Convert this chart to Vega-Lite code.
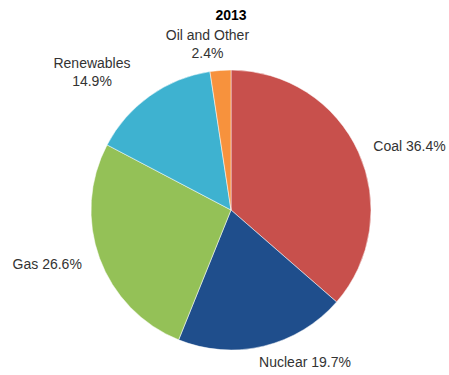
{
  "$schema": "https://vega.github.io/schema/vega-lite/v6.json",
  "autosize": "none",
  "width": 436,
  "height": 330,
  "padding": {"left": 13, "top": 45, "right": 0, "bottom": 0},
  "background": "white",
  "title": {"text": "2013", "fontSize": 14, "fontWeight": "bold", "font": "Liberation Sans", "color": "#000000", "anchor": "middle", "frame": "group", "offset": 6},
  "data": {"values": [
    {"source": "Coal", "value": 36.4, "order": 1, "label": "Coal 36.4%"},
    {"source": "Nuclear", "value": 19.7, "order": 2, "label": "Nuclear 19.7%"},
    {"source": "Gas", "value": 26.6, "order": 3, "label": "Gas 26.6%"},
    {"source": "Renewables", "value": 14.9, "order": 4, "label": "Renewables\n14.9%"},
    {"source": "Oil and Other", "value": 2.4, "order": 5, "label": "Oil and Other\n2.4%"}
  ]},
  "encoding": {
    "theta": {"field": "value", "type": "quantitative", "stack": true},
    "order": {"field": "order", "type": "quantitative", "sort": "ascending"}
  },
  "layer": [
    {
      "mark": {"type": "arc", "outerRadius": 140, "stroke": "white", "strokeWidth": 0.5},
      "encoding": {
        "color": {"field": "source", "type": "nominal", "legend": null,
          "scale": {"domain": ["Coal", "Nuclear", "Gas", "Renewables", "Oil and Other"],
                    "range": ["#c8504c", "#1f4e8c", "#94c157", "#3eb2d0", "#f7923d"]}}
      }
    },
    {
      "mark": {"type": "text", "radius": 150, "dx": 42, "dy": -1, "font": "Liberation Sans", "fontSize": 14, "color": "#333333", "lineBreak": "\n", "lineHeight": 18, "align": "center", "baseline": "middle"},
      "encoding": {"text": {"condition": {"test": "datum.source === 'Coal'", "field": "label"}, "value": ""}}
    },
    {
      "mark": {"type": "text", "radius": 150, "dx": 39, "dy": 7, "font": "Liberation Sans", "fontSize": 14, "color": "#333333", "lineBreak": "\n", "lineHeight": 18, "align": "center", "baseline": "middle"},
      "encoding": {"text": {"condition": {"test": "datum.source === 'Nuclear'", "field": "label"}, "value": ""}}
    },
    {
      "mark": {"type": "text", "radius": 150, "dx": -43, "dy": 3, "font": "Liberation Sans", "fontSize": 14, "color": "#333333", "lineBreak": "\n", "lineHeight": 18, "align": "center", "baseline": "middle"},
      "encoding": {"text": {"condition": {"test": "datum.source === 'Gas'", "field": "label"}, "value": ""}}
    },
    {
      "mark": {"type": "text", "radius": 150, "dx": -52, "dy": -24, "font": "Liberation Sans", "fontSize": 14, "color": "#333333", "lineBreak": "\n", "lineHeight": 18, "align": "center", "baseline": "middle"},
      "encoding": {"text": {"condition": {"test": "datum.source === 'Renewables'", "field": "label"}, "value": ""}}
    },
    {
      "mark": {"type": "text", "radius": 167, "dx": -11, "dy": -7, "font": "Liberation Sans", "fontSize": 14, "color": "#333333", "lineBreak": "\n", "lineHeight": 18, "align": "center", "baseline": "middle"},
      "encoding": {"text": {"condition": {"test": "datum.source === 'Oil and Other'", "field": "label"}, "value": ""}}
    }
  ],
  "config": {"view": {"stroke": null}}
}
